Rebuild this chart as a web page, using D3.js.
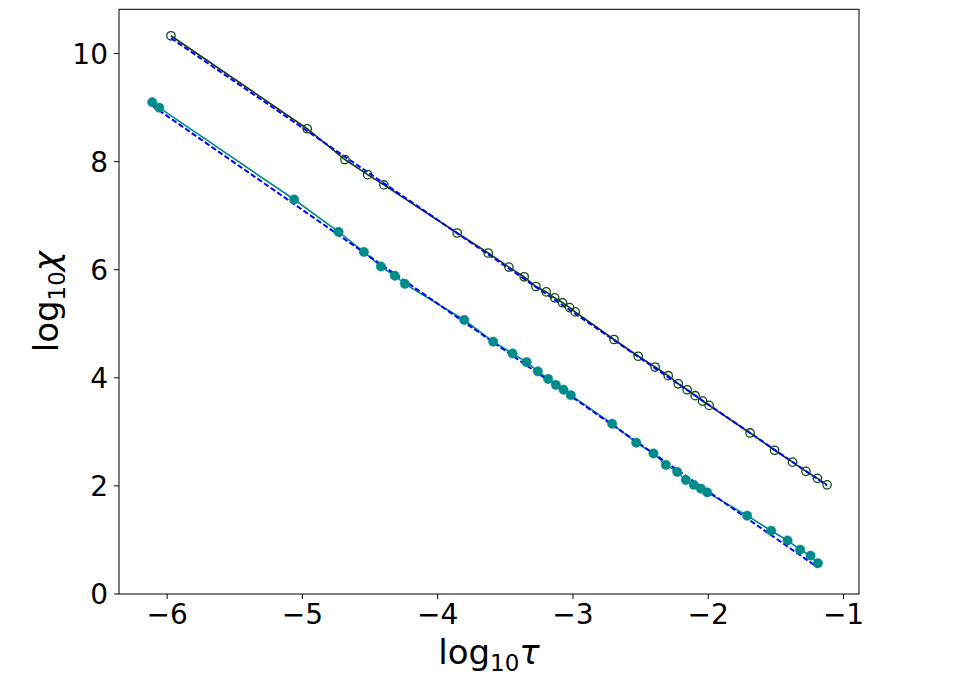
<!DOCTYPE html>
<html><head><meta charset="utf-8">
<script src="https://cdn.jsdelivr.net/npm/d3@7"></script>
<style>body{margin:0;background:#fff}svg{display:block}text{font-family:"DejaVu Sans",sans-serif}</style>
</head><body><svg id="chart" width="956" height="677"></svg>
<script>
// series 1: open circles (log10 tau, log10 chi)
const tauA = [-5.968,-4.961,-4.682,-4.514,-4.394,-3.852,-3.623,-3.470,-3.357,-3.270,-3.194,-3.131,-3.073,-3.021,-2.980,-2.693,-2.514,-2.389,-2.292,-2.218,-2.152,-2.093,-2.038,-1.990,-1.687,-1.506,-1.373,-1.274,-1.189,-1.118];
const chiA = [10.32,8.60,8.03,7.75,7.56,6.67,6.30,6.04,5.86,5.68,5.58,5.47,5.38,5.29,5.21,4.70,4.39,4.19,4.03,3.88,3.77,3.66,3.56,3.48,2.97,2.65,2.43,2.26,2.13,2.01];
// series 2: filled circles
const tauB = [-6.106,-6.055,-5.057,-4.729,-4.542,-4.416,-4.313,-4.239,-3.800,-3.586,-3.443,-3.339,-3.256,-3.180,-3.123,-3.066,-3.012,-2.707,-2.529,-2.401,-2.310,-2.226,-2.162,-2.103,-2.051,-2.004,-1.709,-1.531,-1.410,-1.317,-1.240,-1.186];
const chiB = [9.09,8.99,7.29,6.69,6.32,6.05,5.88,5.73,5.06,4.66,4.44,4.28,4.11,3.97,3.86,3.77,3.67,3.14,2.79,2.59,2.38,2.25,2.10,2.01,1.94,1.87,1.44,1.16,0.98,0.81,0.70,0.56];
// linear fits (intercept, slope)
const fitA = [0.09, -1.707];
const fitB = [-1.58, -1.737];
const xTicks = [-6,-5,-4,-3,-2,-1];
const yTicks = [0,2,4,6,8,10];

const svg = d3.select("#chart");
const L=119, R=859, T=9.3, B=594;
const x = d3.scaleLinear().domain([-6.352,-0.882]).range([L,R]);
const y = d3.scaleLinear().domain([-0.01,10.81]).range([B,T]);

const g = svg.append("g");
const line = d3.line().x(d=>x(d[0])).y(d=>y(d[1]));
const ptsA = tauA.map((t,i)=>[t,chiA[i]]);
const ptsB = tauB.map((t,i)=>[t,chiB[i]]);

function fitPts(tau, f){ const e=d3.extent(tau); return e.map(t=>[t, f[0]+f[1]*t]); }

// data lines
g.append("path").attr("d", line(ptsA)).attr("fill","none").attr("stroke","#123d1c").attr("stroke-width",1.6);
g.append("path").attr("d", line(ptsB)).attr("fill","none").attr("stroke","#008b8b").attr("stroke-width",1.6);
// fit lines
g.append("path").attr("d", line(fitPts(tauA,fitA))).attr("fill","none").attr("stroke","#0000ff").attr("stroke-width",2).attr("stroke-dasharray","5.5,2.5");
g.append("path").attr("d", line(fitPts(tauB,fitB))).attr("fill","none").attr("stroke","#0000ff").attr("stroke-width",2).attr("stroke-dasharray","5.5,2.5");
// markers
g.selectAll("circle.a").data(ptsA).join("circle").attr("class","a")
 .attr("cx",d=>x(d[0])).attr("cy",d=>y(d[1])).attr("r",4.2)
 .attr("fill","none").attr("stroke","#0d4a1f").attr("stroke-width",1.3);
g.selectAll("circle.b").data(ptsB).join("circle").attr("class","b")
 .attr("cx",d=>x(d[0])).attr("cy",d=>y(d[1])).attr("r",4.7)
 .attr("fill","#008b8b").attr("stroke","#008b8b").attr("stroke-width",0.5);

// axes
const xa = svg.append("g").attr("transform",`translate(0,${B})`)
 .call(d3.axisBottom(x).tickValues(xTicks).tickSize(5).tickPadding(5).tickFormat(d=>"\u2212"+Math.abs(d)));
const ya = svg.append("g").attr("transform",`translate(${L},0)`)
 .call(d3.axisLeft(y).tickValues(yTicks).tickSize(5).tickPadding(6).tickFormat(d3.format("d")));
[xa,ya].forEach(a=>{a.attr("font-size",null).attr("font-family",null);
 a.select(".domain").remove(); a.selectAll("line").attr("stroke","#000").attr("stroke-width",1);
 a.selectAll("text").style("font-size","28px").attr("fill","#000").style("font-family","DejaVu Sans");});
xa.selectAll("text").attr("dy","0.73em");
ya.selectAll("text").attr("dy","0.36em");
// frame
svg.append("rect").attr("x",L).attr("y",T).attr("width",R-L).attr("height",B-T)
 .attr("fill","none").attr("stroke","#000").attr("stroke-width",1);

// axis labels
const xl = svg.append("text").attr("x",(L+R)/2).attr("y",664).attr("text-anchor","middle").style("font-size","34px");
xl.append("tspan").text("log");
xl.append("tspan").style("font-size","23px").attr("dy",7).text("10");
xl.append("tspan").attr("dy",-7).attr("font-style","italic").text("\u03c4");

const yl = svg.append("text").attr("transform",`translate(58,${(T+B)/2}) rotate(-90)`).attr("text-anchor","middle").style("font-size","34px");
yl.append("tspan").text("log");
yl.append("tspan").style("font-size","23px").attr("dy",7).text("10");
yl.append("tspan").attr("dy",-7).attr("font-style","italic").text("\u03c7");
</script></body></html>
